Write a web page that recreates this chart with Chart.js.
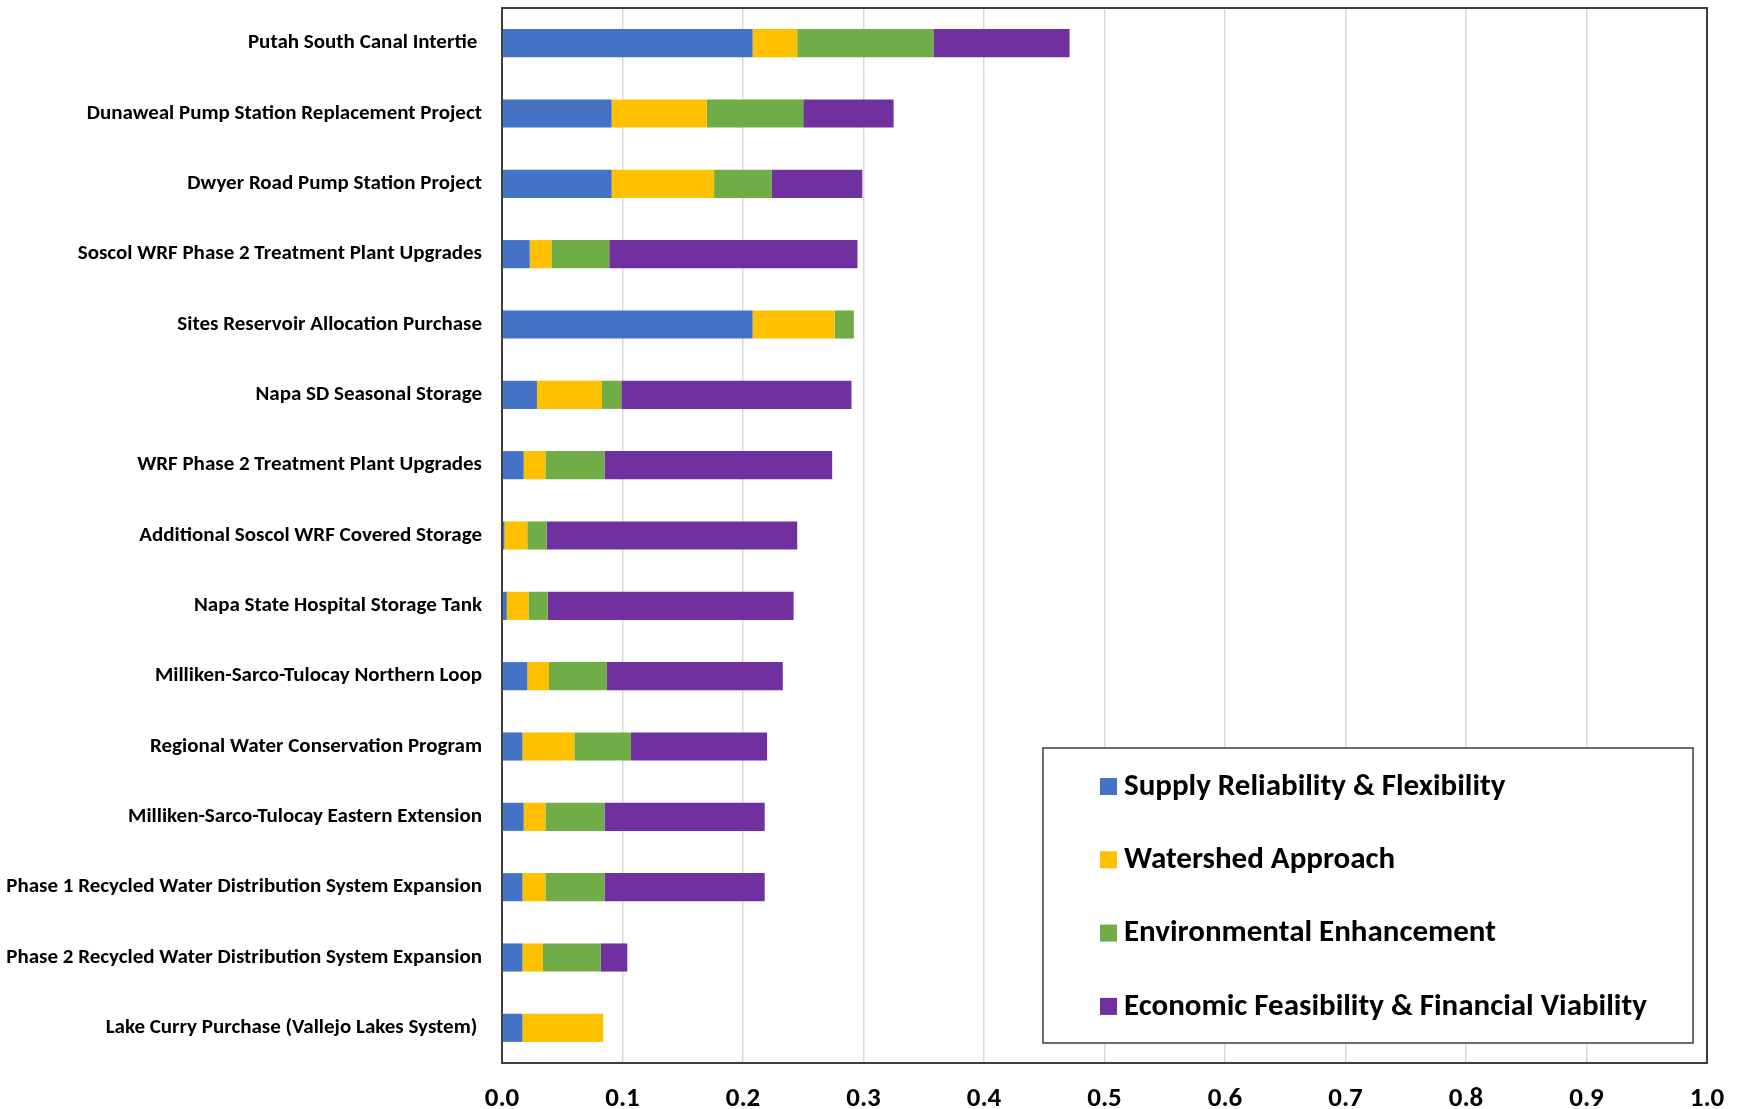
<!DOCTYPE html>
<html>
<head>
<meta charset="utf-8">
<title>Project Scores</title>
<script src="https://cdn.jsdelivr.net/npm/chart.js@4.4.1/dist/chart.umd.min.js"></script>
<style>
  html, body { margin: 0; padding: 0; background: #fff; }
  #wrap { width: 1738px; height: 1109px; position: relative; }
</style>
</head>
<body>
<div id="wrap"><canvas id="scoreChart"></canvas></div>
<script>
const projects = [
  "Putah South Canal Intertie ",
  "Dunaweal Pump Station Replacement Project",
  "Dwyer Road Pump Station Project",
  "Soscol WRF Phase 2 Treatment Plant Upgrades",
  "Sites Reservoir Allocation Purchase",
  "Napa SD Seasonal Storage",
  "WRF Phase 2 Treatment Plant Upgrades",
  "Additional Soscol WRF Covered Storage",
  "Napa State Hospital Storage Tank",
  "Milliken-Sarco-Tulocay Northern Loop",
  "Regional Water Conservation Program",
  "Milliken-Sarco-Tulocay Eastern Extension",
  "Phase 1 Recycled Water Distribution System Expansion",
  "Phase 2 Recycled Water Distribution System Expansion",
  "Lake Curry Purchase (Vallejo Lakes System) "
];

const supplyReliability = [0.208, 0.091, 0.091, 0.023, 0.208, 0.029, 0.018, 0.002, 0.004, 0.021, 0.017, 0.018, 0.017, 0.017, 0.017];
const watershedApproach = [0.037, 0.079, 0.085, 0.018, 0.068, 0.054, 0.018, 0.019, 0.018, 0.018, 0.043, 0.018, 0.019, 0.017, 0.067];
const environmental     = [0.113, 0.080, 0.048, 0.048, 0.016, 0.016, 0.049, 0.016, 0.016, 0.048, 0.047, 0.049, 0.049, 0.048, 0];
const economic          = [0.113, 0.075, 0.075, 0.206, 0, 0.191, 0.189, 0.208, 0.204, 0.146, 0.113, 0.133, 0.133, 0.022, 0];

const seriesNames = [
  "Supply Reliability & Flexibility",
  "Watershed Approach",
  "Environmental Enhancement",
  "Economic Feasibility & Financial Viability"
];
const xTicks = [0, 0.1, 0.2, 0.3, 0.4, 0.5, 0.6, 0.7, 0.8, 0.9, 1.0];

const colors = ["#4472C4", "#FFC000", "#70AD47", "#7030A0"];
const FONT = "Carlito, Lato, 'Liberation Sans', sans-serif";
const FRAME = "#3f3f3f";

// frame around the plot area plus a boxed legend sitting inside it
const framePlugin = {
  id: "frameAndLegend",
  afterDatasetsDraw(chart) {
    const { ctx, chartArea: a } = chart;
    ctx.save();
    ctx.strokeStyle = FRAME;
    ctx.lineWidth = 2;
    ctx.strokeRect(a.left, a.top, a.right - a.left, a.bottom - a.top);

    const box = { x: a.left + 541, y: a.top + 740, w: 650, h: 295 };
    ctx.fillStyle = "#fff";
    ctx.fillRect(box.x, box.y, box.w, box.h);
    ctx.lineWidth = 1.5;
    ctx.strokeRect(box.x, box.y, box.w, box.h);

    ctx.font = "bold 31px " + FONT;
    ctx.textBaseline = "middle";
    chart.data.datasets.forEach((ds, i) => {
      const cy = box.y + 38 + i * 73.3;
      ctx.fillStyle = ds.backgroundColor;
      ctx.fillRect(box.x + 57, cy - 8, 17, 17);
      ctx.fillStyle = "#000";
      ctx.fillText(ds.label, box.x + 81, cy + 1);
    });
    ctx.restore();
  }
};

const seriesData = [supplyReliability, watershedApproach, environmental, economic];

new Chart(document.getElementById("scoreChart"), {
  type: "bar",
  data: {
    labels: projects,
    datasets: seriesNames.map((name, i) => ({
      label: name,
      data: seriesData[i],
      backgroundColor: colors[i],
      borderWidth: 0,
      barPercentage: 0.4,
      categoryPercentage: 1.0
    }))
  },
  options: {
    indexAxis: "y",
    responsive: true,
    maintainAspectRatio: false,
    animation: false,
    layout: { padding: { top: 8, right: 31, left: 0, bottom: 0 } },
    plugins: {
      legend: { display: false },
      tooltip: { enabled: false }
    },
    scales: {
      x: {
        stacked: true,
        min: 0,
        max: 1,
        afterBuildTicks(scale) {
          scale.ticks = xTicks.map(v => ({ value: v }));
        },
        afterFit(scale) {
          scale.height = 46;
          scale.paddingLeft = 0;
          scale.paddingRight = 0;
        },
        grid: { color: "#d9d9d9", lineWidth: 1.5, drawTicks: false },
        border: { display: false },
        ticks: {
          padding: 20,
          color: "#000",
          font: { family: FONT, size: 27, weight: "bold" },
          callback: v => Number(v).toFixed(1)
        }
      },
      y: {
        stacked: true,
        afterFit(scale) {
          scale.width = 502;
          scale.paddingTop = 0;
          scale.paddingBottom = 0;
        },
        grid: { display: false, drawTicks: false },
        border: { display: false },
        ticks: {
          padding: 20,
          color: "#000",
          font: { family: FONT, size: 21, weight: "bold" }
        }
      }
    }
  },
  plugins: [framePlugin]
});
</script>
</body>
</html>
